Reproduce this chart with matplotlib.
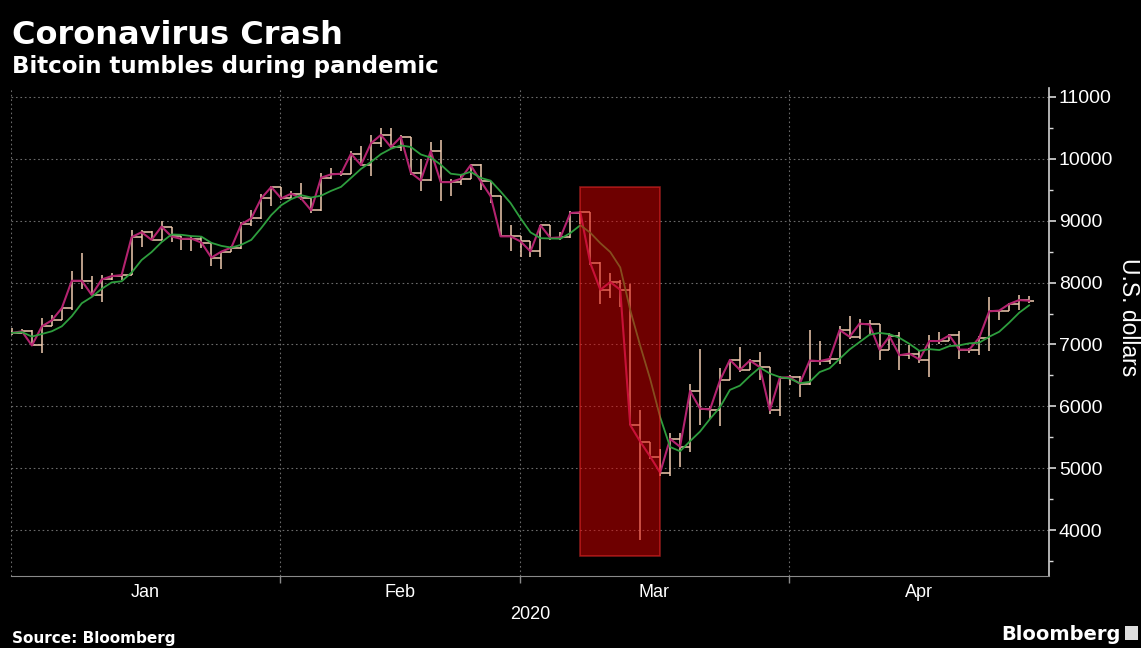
import matplotlib
matplotlib.use("Agg")
import matplotlib.pyplot as plt
import numpy as np
import pandas as pd

# daily bitcoin bars (US dollars)
closes = [7187, 7213, 6984, 7293, 7390, 7587, 8029, 8029, 7800, 8050,
          8104, 8120, 8733, 8813, 8690, 8904, 8744, 8705, 8710, 8645,
          8403, 8500, 8565, 8941, 9038, 9360, 9543, 9360, 9435, 9360,
          9167, 9694, 9747, 9758, 10081, 9898, 10250, 10384, 10189, 10351,
          9773, 9649, 10124, 9622, 9622, 9676, 9897, 9638, 9395, 8746,
          8746, 8665, 8503, 8924, 8719, 8730, 9124, 9134, 8313, 7884,
          8008, 7884, 5700, 5432, 5191, 4930, 5475, 5349, 6249, 5965,
          5949, 6420, 6752, 6591, 6741, 6634, 5938, 6463, 6473, 6366,
          6741, 6731, 6768, 7234, 7125, 7337, 7323, 6917, 7131, 6827,
          6853, 6757, 7056, 7056, 7147, 6917, 6917, 7109, 7536, 7547,
          7653, 7717, 7707]
opens = [7200, 7187, 7213, 6984, 7293, 7390, 7587, 8029, 8029, 7800,
         8050, 8104, 8120, 8733, 8813, 8690, 8904, 8744, 8705, 8710,
         8645, 8403, 8500, 8565, 8941, 9038, 9360, 9543, 9360, 9435,
         9360, 9167, 9694, 9747, 9758, 10081, 9898, 10250, 10384, 10189,
         10351, 9773, 9649, 10124, 9622, 9622, 9676, 9897, 9638, 9395,
         8746, 8746, 8665, 8503, 8924, 8719, 8730, 9124, 9134, 8313,
         7884, 8008, 7884, 5700, 5432, 5191, 4930, 5475, 5349, 6249,
         5965, 5949, 6420, 6752, 6591, 6741, 6634, 5938, 6463, 6473,
         6366, 6741, 6731, 6768, 7234, 7125, 7337, 7323, 6917, 7131,
         6827, 6853, 6757, 7056, 7056, 7147, 6917, 6917, 7109, 7536,
         7547, 7653, 7717]
highs = [7270, 7250, 7240, 7430, 7480, 7600, 8190, 8470, 8100, 8120,
         8160, 8150, 8850, 8850, 8840, 9000, 8790, 8760, 8750, 8750,
         8645, 8510, 8590, 8970, 9170, 9425, 9560, 9540, 9480, 9610,
         9380, 9770, 9850, 9800, 10120, 10200, 10390, 10490, 10500, 10380,
         10230, 9990, 10275, 10300, 9665, 9745, 9920, 9910, 9640, 9395,
         8935, 8745, 8640, 8935, 8935, 8815, 9150, 9150, 8350, 8330,
         8150, 8045, 7970, 5950, 5325, 5310, 5563, 5563, 6366, 6930,
         6000, 6620, 6768, 6966, 6768, 6875, 6125, 6484, 6500, 6484,
         7234, 7050, 6822, 7300, 7464, 7413, 7397, 7323, 7184, 7200,
         6987, 6917, 7147, 7200, 7173, 7216, 6950, 7131, 7760, 7557,
         7664, 7800, 7787]
lows = [7160, 7180, 6970, 6860, 7320, 7390, 7560, 7890, 7800, 7690,
        8040, 8040, 8120, 8570, 8680, 8690, 8650, 8520, 8510, 8560,
        8270, 8215, 8540, 8540, 8910, 9020, 9235, 9330, 9380, 9330,
        9130, 9160, 9670, 9720, 9855, 9880, 9720, 10190, 10180, 10120,
        9745, 9475, 9640, 9315, 9395, 9580, 9690, 9500, 9290, 8730,
        8510, 8420, 8420, 8420, 8690, 8690, 8720, 8946, 8290, 7650,
        7755, 7605, 5700, 3850, 5150, 4880, 4870, 5027, 5270, 5700,
        5790, 5680, 6420, 6554, 6580, 6420, 5870, 5841, 6340, 6150,
        6340, 6661, 6690, 6690, 7090, 7090, 7173, 6747, 7067, 6587,
        6773, 6693, 6480, 7013, 7093, 6773, 6864, 6827, 6896, 7397,
        7547, 7557, 7664]

months = ["Jan", "Feb", "Mar", "Apr"]
month_edges = [-0.1, 26.9, 50.9, 77.9, 104.0]   # in bar units
crash_start, crash_end = 57, 65                  # highlighted bars
crash_low, crash_high = 3590, 9540

o = np.array(opens)
h = np.array(highs)
l = np.array(lows)
c = np.array(closes)
x = np.arange(len(c))
ma5 = pd.Series(c).rolling(5, min_periods=1).mean()

fig = plt.figure(figsize=(11.41, 6.48), dpi=100, facecolor="black")
ax = fig.add_axes([0.0096, 0.111, 0.9098, 0.753])
ax.set_facecolor("black")

bar_col = "#f0cbb0"
top = np.maximum(h, np.maximum(o, c))
bot = np.minimum(l, np.minimum(o, c))
ax.vlines(x, bot, top, color=bar_col, lw=1.1, zorder=2)
ax.hlines(o, x - 0.5, x, color=bar_col, lw=1.1, zorder=2)
ax.hlines(c, x, x + 0.5, color=bar_col, lw=1.1, zorder=2)

ax.plot(x, c, color="#b3236f", lw=1.5, zorder=3)
ax.plot(x, ma5, color="#2e9e3e", lw=1.3, zorder=4)

# crash highlight, drawn on top with transparency
ax.add_patch(plt.Rectangle((crash_start, crash_low), crash_end - crash_start,
                           crash_high - crash_low, facecolor="#dc0000",
                           alpha=0.5, edgecolor="#ff3030", lw=1.2, zorder=6))

ax.set_xlim(month_edges[0], month_edges[-1])
ax.set_ylim(3260, 11140)

# grid
for yv in range(4000, 11001, 1000):
    ax.axhline(yv, color="#6a6a6a", lw=0.8, ls=(0, (1.5, 2.5)), zorder=1)
for xv in month_edges[:-1]:
    ax.axvline(xv, color="#6a6a6a", lw=0.8, ls=(0, (1.5, 2.5)), zorder=1)

for s in ["top", "left"]:
    ax.spines[s].set_visible(False)
ax.spines["bottom"].set_color("#8a8a8a")
ax.spines["right"].set_color("#d0d0d0")
ax.spines["right"].set_linewidth(1.2)

ax.yaxis.tick_right()
ax.set_yticks(range(4000, 11001, 1000))
ax.set_yticks(range(3500, 11001, 500), minor=True)
ax.tick_params(axis="y", which="major", colors="#d8d8d8", length=5, width=1.2,
               labelsize=14, pad=2)
ax.tick_params(axis="y", which="minor", colors="#d8d8d8", length=3, width=1)
for t in ax.get_yticklabels():
    t.set_fontfamily("Liberation Sans")
    t.set_color("white")

ax.set_xticks(month_edges[1:-1])
ax.set_xticklabels([])
mids = [(month_edges[i] + month_edges[i + 1]) / 2 for i in range(len(months))]
ax.set_xticks(mids, minor=True)
ax.set_xticklabels(months, minor=True, fontfamily="Liberation Sans", fontsize=13,
                   color="white")
ax.tick_params(axis="x", which="major", colors="#8a8a8a", length=5, width=1)
ax.tick_params(axis="x", which="minor", length=0, pad=6)

fig.text(0.465, 0.045, "2020", color="white", fontsize=13, ha="center",
         fontfamily="Liberation Sans")
fig.text(0.989, 0.51, "U.S. dollars", color="white", fontsize=16.5, rotation=-90,
         ha="center", va="center", fontfamily="Liberation Sans")

fig.text(0.0105, 0.932, "Coronavirus Crash", color="white", fontsize=23,
         fontweight="bold", va="baseline")
fig.text(0.0105, 0.888, "Bitcoin tumbles during pandemic", color="white",
         fontsize=16.5, fontweight="bold", va="baseline")
fig.text(0.0105, 0.008, "Source: Bloomberg", color="white", fontsize=11,
         fontweight="bold", va="baseline")
fig.text(0.982, 0.012, "Bloomberg", color="white", fontsize=14,
         fontweight="bold", ha="right", va="baseline")
fig.patches.append(plt.Rectangle((0.986, 0.012), 0.011, 0.022, facecolor="#dddddd",
                                 transform=fig.transFigure, figure=fig))

fig.savefig("out.png", dpi=100, facecolor="black")
